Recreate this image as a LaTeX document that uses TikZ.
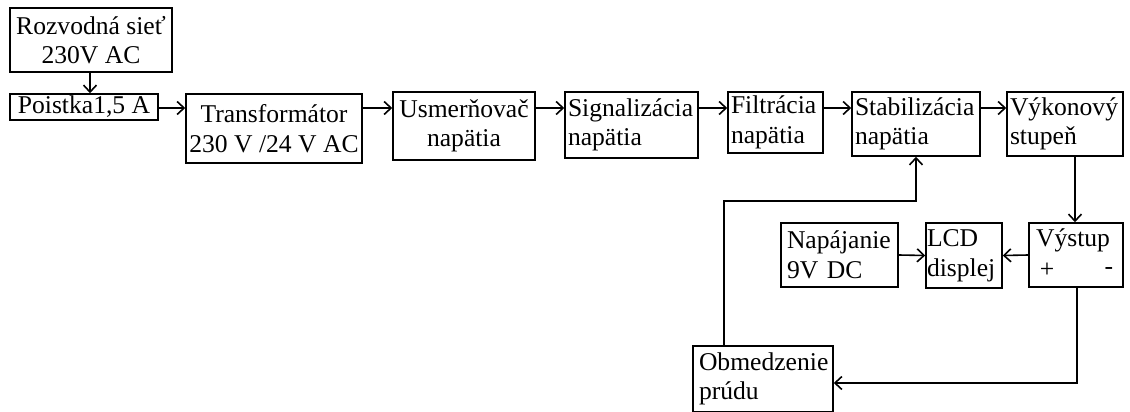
\documentclass[tikz,border=0pt]{standalone}
\usepackage{fontspec}
\setmainfont{Liberation Serif}
\usetikzlibrary{arrows.meta}
\begin{document}
\begin{tikzpicture}[x=1pt,y=-1pt,
  box/.style={draw,line width=1.5pt,inner xsep=3pt,inner ysep=0pt,
    font=\fontsize{25.6}{29.5}\selectfont},
  lbox/.style={box,align=left},
  cbox/.style={box,align=center,inner xsep=0pt},
  txt/.style={inner sep=0pt,font=\fontsize{25.6}{29.5}\selectfont},
  arr/.style={line width=1.6pt,-{Straight Barb[length=7pt,width=13pt,line width=1.6pt]}}]
\useasboundingbox (0,0) rectangle (1130,412);
\clip (0,0) rectangle (1130,412);
% boxes
\node[cbox,minimum width=162pt,minimum height=64pt] (roz) at (91,40) {Rozvodná sieť\\230V AC};
\node[cbox,minimum width=148pt,minimum height=26pt] (poi) at (84,107) {Poistka1,5 A};
\node[cbox,minimum width=176pt,minimum height=69pt] (tra) at (274,128.5) {Transformátor\\230 V /24 V AC};
\node[cbox,minimum width=142pt,minimum height=68pt] (usm) at (464,126) {Usmerňovač\\napätia};
\node[lbox,text width=127pt,minimum height=66pt] (sig) at (631.5,125) {Signalizácia\\napätia};
\node[lbox,text width=89pt,minimum height=61pt] (fil) at (775.5,122.5) {Filtrácia\\napätia};
\node[lbox,text width=122pt,minimum height=64pt] (sta) at (916,124) {Stabilizácia\\napätia};
\node[lbox,text width=110pt,minimum height=64pt] (vyk) at (1065,124) {Výkonový\\stupeň};
\node[box,minimum width=94pt,minimum height=64pt] (vys) at (1076,255) {};
\node[txt] (vyst) at (1073,240) {Výstup};
\node[txt] (vysp) at (1047,270) {+};
\node[txt] (vysm) at (1109,271) {-};
\node[lbox,minimum height=65pt,inner xsep=1pt,text width=74pt] (lcd) at (964,255.5) {LCD\\displej};
\node[lbox,text width=105pt,minimum height=64pt,inner xsep=6pt] (nap) at (839.5,255) {Napájanie\\9V DC};
\node[lbox,text width=128pt,minimum height=66pt,inner xsep=6pt] (obm) at (763,379) {Obmedzenie\\prúdu};
% helper coordinates
\coordinate (row) at (0,108);
\coordinate (c1) at (1075,0);
\coordinate (c2) at (1077,383);
\coordinate (f1) at (724,0);
\coordinate (fb) at (916,201);
\coordinate (r1) at (90,0);
% connectors
\draw[arr] (roz.south -| r1) -- (poi.north -| r1);
\draw[arr] (poi.east |- row) -- (tra.west |- row);
\draw[arr] (tra.east |- row) -- (usm.west |- row);
\draw[arr] (usm.east |- row) -- (sig.west |- row);
\draw[arr] (sig.east |- row) -- (fil.west |- row);
\draw[arr] (fil.east |- row) -- (sta.west |- row);
\draw[arr] (sta.east |- row) -- (vyk.west |- row);
\draw[arr] (vyk.south -| c1) -- (vys.north -| c1);
\draw[arr] (vys.west) -- (lcd.east);
\draw[arr] (nap.east) -- (lcd.west);
\draw[arr] (vys.south -| c2) -- (c2) -- (obm.east |- c2);
\draw[arr] (obm.north -| f1) |- (fb) -- (sta.south -| fb);
\end{tikzpicture}
\end{document}
